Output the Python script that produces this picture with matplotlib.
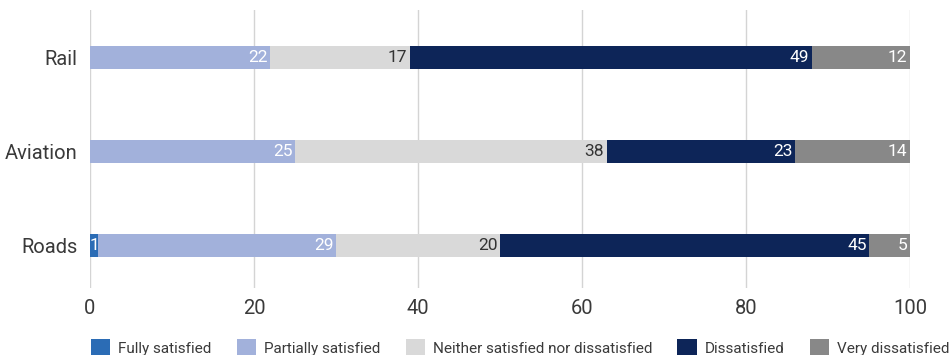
import numpy as np
import matplotlib
matplotlib.use('Agg')
import matplotlib.pyplot as plt

plt.rcParams['font.family'] = ['Roboto', 'DejaVu Sans']

categories = ['Roads', 'Aviation', 'Rail']
series_names = ['Fully satisfied', 'Partially satisfied', 'Neither satisfied nor dissatisfied',
                'Dissatisfied', 'Very dissatisfied']
fully = [1, 0, 0]
partially = [29, 25, 22]
neither = [20, 38, 17]
dissatisfied = [45, 23, 49]
very = [5, 14, 12]
xticks = [0, 20, 40, 60, 80, 100]

colors = ['#2b6cb5', '#a2b1db', '#d9d9d9', '#0d2558', '#888888']
label_colors = ['white', 'white', '#333333', 'white', 'white']
txt = '#3a3a3a'

fig = plt.figure(figsize=(9.53, 3.55), dpi=100)
ax = fig.add_axes([90 / 953, 1 - 288 / 355, 820 / 953, 278 / 355])

y = np.arange(len(categories))
left = np.zeros(len(categories))
handles = []
for vals, name, col, lc in zip([fully, partially, neither, dissatisfied, very],
                               series_names, colors, label_colors):
    vals = np.array(vals, dtype=float)
    bars = ax.barh(y, vals, left=left, height=0.245, color=col, label=name, zorder=3)
    handles.append(bars)
    for yi, v, l in zip(y, vals, left):
        if v <= 0:
            continue
        if v < 3:
            ax.text(l + v / 2, yi, f'{int(v)}', ha='center', va='center',
                    color=lc, fontsize=12.5, zorder=4)
        else:
            ax.text(l + v - 0.3, yi, f'{int(v)}', ha='right', va='center',
                    color=lc, fontsize=12.5, zorder=4)
    left += vals

ax.set_xlim(0, 100)
ax.set_ylim(-0.45, 2.51)
ax.set_yticks(y)
ax.set_yticklabels(categories, fontsize=14.5, color=txt)
ax.set_xticks(xticks)
ax.set_xticklabels([str(t) for t in xticks], fontsize=14.5, color=txt)
ax.tick_params(length=0, pad=8)
ax.tick_params(axis='y', pad=9)
ax.grid(axis='x', color='#d4d4d4', linewidth=1, zorder=0)
for s in ax.spines.values():
    s.set_visible(False)

fig.legend(handles=handles, loc='center left', bbox_to_anchor=(91 / 953, 7 / 355),
           ncol=5, frameon=False, fontsize=11, handlelength=1.25, handleheight=1.5,
           handletextpad=0.55, columnspacing=1.63, labelcolor=txt, borderpad=0,
           borderaxespad=0)

fig.savefig('out.png', dpi=100)
